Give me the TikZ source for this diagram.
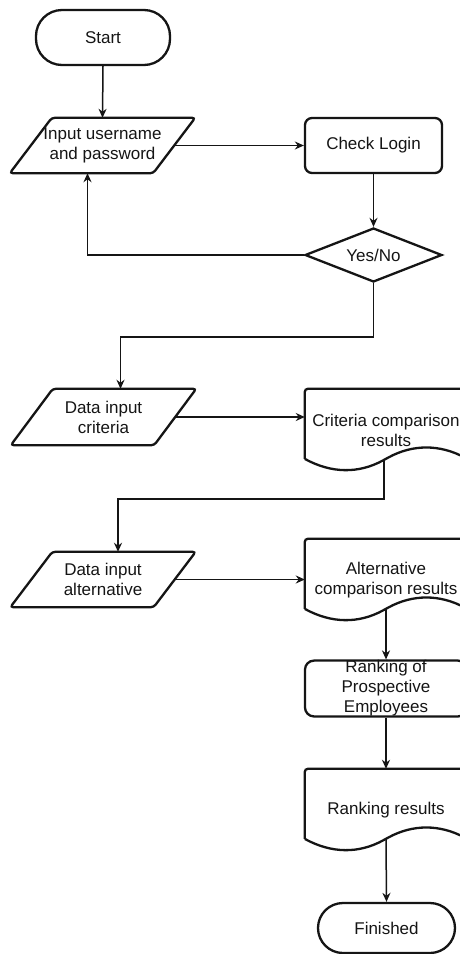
\documentclass[tikz,border=0pt]{standalone}
\usepackage{fontspec}
\setmainfont{Liberation Sans}
\usetikzlibrary{arrows.meta,shapes.geometric,calc}
\definecolor{ink}{HTML}{151515}
\tikzset{
  base/.style={inner sep=0pt, align=center, text=ink, font=\fontsize{17}{20}\selectfont},
  shp/.style={draw=ink, line width=2.3pt, rounded corners=3pt},
  term/.style={base, draw=ink, line width=2.3pt, rectangle, minimum width=134pt, minimum height=55pt, rounded corners=26pt},
  procbox/.style={base, draw=ink, line width=2.3pt, rectangle, minimum width=137pt, minimum height=55pt, rounded corners=7pt},
  iobox/.style={base, rectangle, minimum width=185pt, minimum height=55pt},
  docbox/.style={base, rectangle, minimum width=162pt, minimum height=82pt},
  decide/.style={base, draw=ink, line width=2.3pt, diamond, aspect=2.5, minimum width=137pt, minimum height=54pt},
  arr/.style={draw=ink, line width=1.5pt, -{Stealth[length=9pt,width=8pt]}}
}
\newcommand\iopath[1]{\draw[shp] ([xshift=42pt]#1.north west) -- (#1.north east) -- ([xshift=-42pt]#1.south east) -- (#1.south west) -- cycle;}
\newcommand\docpath[1]{\draw[shp] ([shift={(0,12.3)}]#1.south west) -- (#1.north west) -- (#1.north east) -- ([shift={(0,12.3)}]#1.south east)
  .. controls ([shift={(135,27.06)}]#1.south west) and ([shift={(108,27.06)}]#1.south west) .. ([shift={(81,12.3)}]#1.south west)
  .. controls ([shift={(54,-2.46)}]#1.south west) and ([shift={(27,-2.46)}]#1.south west) .. ([shift={(0,12.3)}]#1.south west);}
\begin{document}
\begin{tikzpicture}[x=1pt,y=1pt]
\useasboundingbox[fill=white] (0,0) rectangle (459,-954);
% nodes
\node[term] (st) at (103,-37.5) {Start};
\node[iobox] (in) at (102.5,-145.5) {Input username\\and password};
\node[procbox] (ck) at (373.5,-145.5) {Check Login};
\node[decide] (yn) at (373.5,-255) {Yes/No};
\node[iobox, minimum height=56pt] (dc) at (103.5,-417) {Data input\\criteria};
\node[docbox] (d1) at (386,-430) {Criteria comparison\\results};
\node[iobox] (da) at (103,-579.5) {Data input\\alternative};
\node[docbox] (d2) at (386,-580) {Alternative\\comparison results};
\node[procbox, minimum width=162pt, rounded corners=9pt] (rk) at (386,-688.5) {Ranking of\\Prospective\\Employees};
\node[docbox] (d3) at (386,-810) {Ranking results};
\node[term, minimum width=137pt, minimum height=50pt, rounded corners=25pt] (fin) at (386.5,-928) {Finished};
% outlines
\iopath{in}
\iopath{dc}
\iopath{da}
\docpath{d1}
\docpath{d2}
\docpath{d3}
% helper coordinates
\coordinate (inR) at ([xshift=-21pt]in.east);
\coordinate (dcR) at ([xshift=-21pt]dc.east);
\coordinate (daR) at ([xshift=-21pt]da.east);
\coordinate (d1B) at ([yshift=12.3pt]d1.south);
\coordinate (d2B) at ([yshift=12.3pt]d2.south);
\coordinate (d3B) at ([yshift=12.3pt]d3.south);
% connectors
\draw[arr] (st.south) -- (in.north);
\draw[arr] (inR) -- (ck.west);
\draw[arr] (ck.south) -- (yn.north);
\draw[arr] (yn.west) -| ([xshift=-15pt]in.south);
\draw[arr] (yn.south) -- ++(0,-54) -| ([xshift=17pt]dc.north);
\draw[arr] (dcR) -- (d1.west |- dcR);
\draw[arr] ([xshift=-2pt]d1B) -- ++(0,-40) -| ([xshift=15pt]da.north);
\draw[arr] (daR) -- (d2.west |- daR);
\draw[arr] (d2B) -- (rk.north);
\draw[arr] (rk.south) -- (d3.north);
\draw[arr] (d3B) -- (fin.north);
\end{tikzpicture}
\end{document}
